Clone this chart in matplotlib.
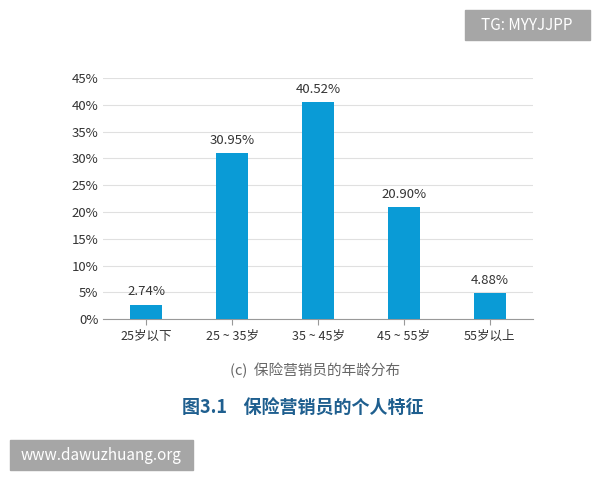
import matplotlib
matplotlib.use("Agg")
import matplotlib.pyplot as plt
from matplotlib.patches import Rectangle

plt.rcParams['font.family'] = ['Noto Sans CJK SC', 'DejaVu Sans']

categories = ["25岁以下", "25 ~ 35岁", "35 ~ 45岁", "45 ~ 55岁", "55岁以上"]
values = [2.74, 30.95, 40.52, 20.90, 4.88]
yticks = [0, 5, 10, 15, 20, 25, 30, 35, 40, 45]

fig = plt.figure(figsize=(6, 4.8), dpi=100)
ax = fig.add_axes([0.172, 0.335, 0.716, 0.5025])
x = range(len(categories))
ax.bar(x, values, width=0.37, color='#0a9bd6', zorder=3)
for i, v in zip(x, values):
    ax.text(i, v + 1.2, f"{v:.2f}%", ha='center', va='bottom', fontsize=9.5, color='#333333')
ax.set_ylim(0, 45)
ax.set_xlim(-0.5, 4.5)
ax.set_yticks(yticks)
ax.set_yticklabels([f"{t}%" for t in yticks], fontsize=9.5, color='#333333')
ax.set_xticks(list(x))
ax.set_xticklabels(categories, fontsize=9, color='#333333')
ax.grid(axis='y', color='#e0e0e0', linewidth=0.8, zorder=0)
for s in ['top', 'right', 'left']:
    ax.spines[s].set_visible(False)
ax.spines['bottom'].set_color('#999999')
ax.tick_params(axis='y', length=0)
ax.tick_params(axis='x', length=4, color='#999999')

fig.text(0.525, 0.228, "(c)  保险营销员的年龄分布", ha='center', va='center', fontsize=10.5, color='#666666')
fig.text(0.505, 0.15, "图3.1    保险营销员的个人特征", ha='center', va='center', fontsize=13, color='#1f5f8f', fontweight='bold')

fig.patches.append(Rectangle((465/600, 1-40/480), 125/600, 30/480, transform=fig.transFigure, color='#a6a6a6'))
fig.text(527/600, 1-25/480, "TG: MYYJJPP", ha='center', va='center', fontsize=11, color='white')
fig.patches.append(Rectangle((10/600, 1-470/480), 183/600, 30/480, transform=fig.transFigure, color='#a6a6a6'))
fig.text(101/600, 1-455/480, "www.dawuzhuang.org", ha='center', va='center', fontsize=11, color='white')

fig.savefig("out.png", dpi=100)
